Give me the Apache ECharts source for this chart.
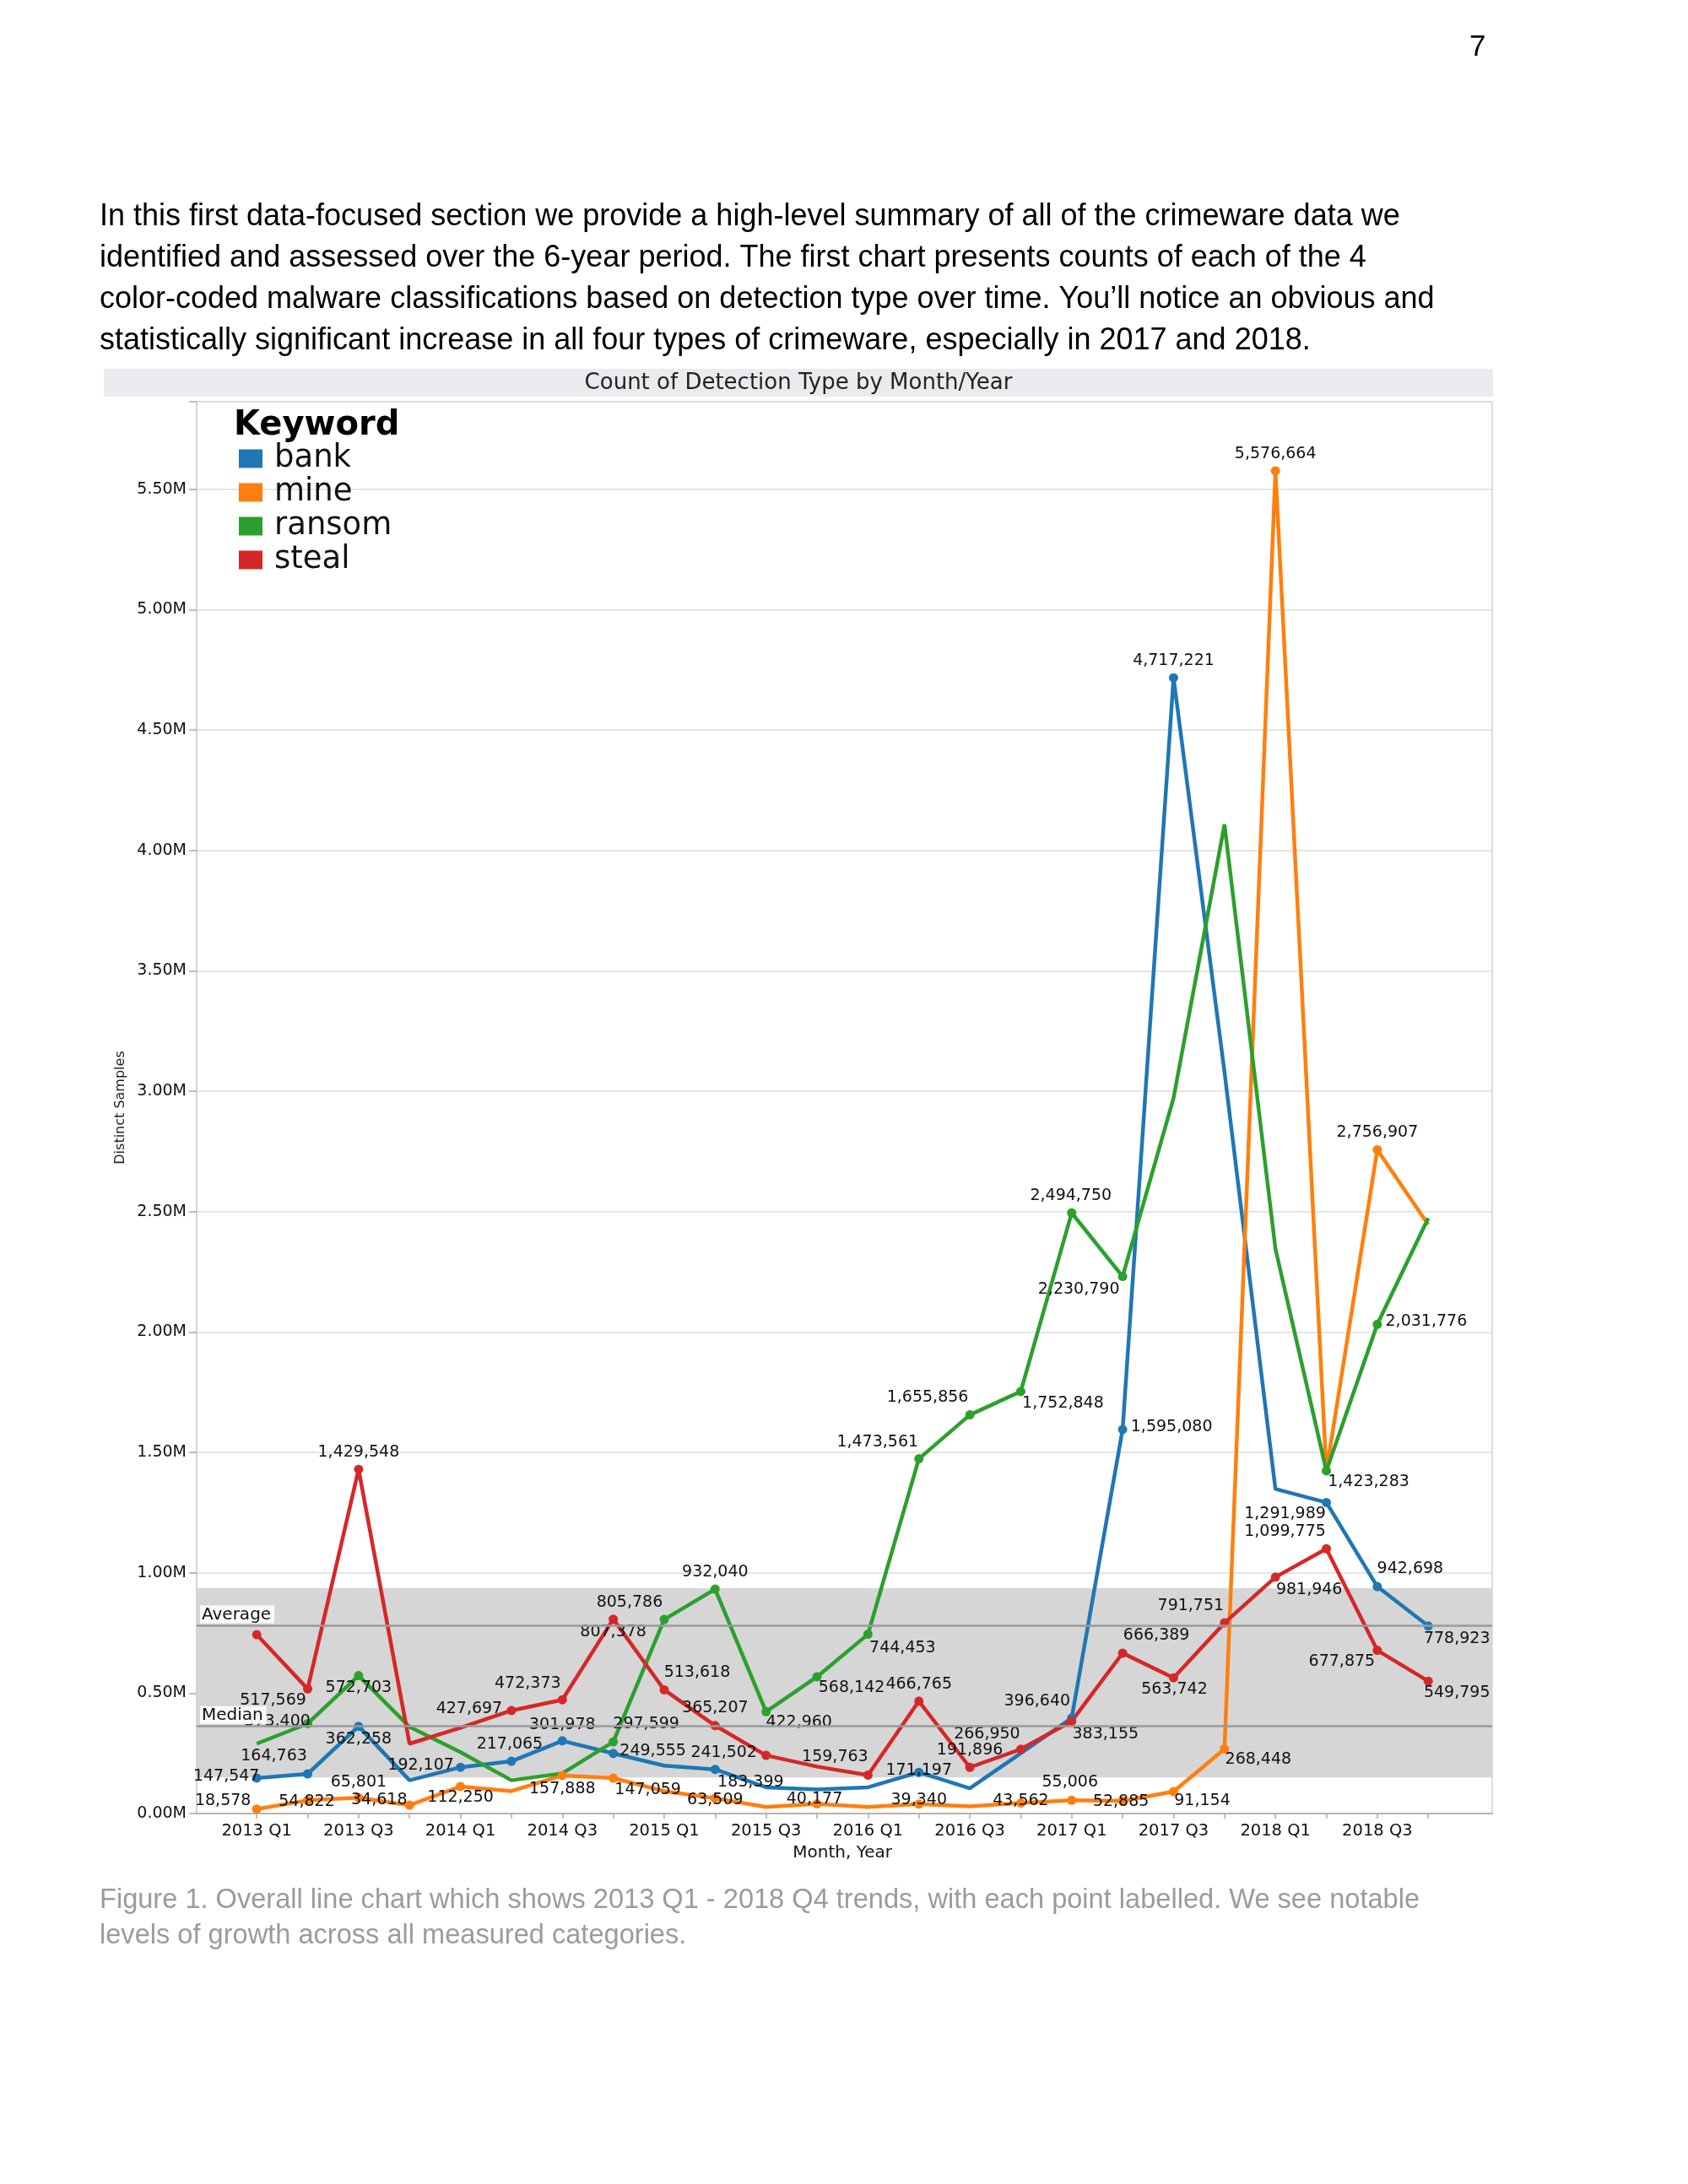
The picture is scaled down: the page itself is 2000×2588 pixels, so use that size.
<!DOCTYPE html>
<html><head><meta charset="utf-8">
<script src="https://cdn.jsdelivr.net/npm/echarts@6/dist/echarts.min.js"></script>
<style>html,body{margin:0;padding:0;background:#fff}#c{width:2000px;height:2588px}</style>
</head><body><div id="c"></div>
<script>
// ---------- data ----------
const quarters = ['2013 Q1','2013 Q2','2013 Q3','2013 Q4','2014 Q1','2014 Q2','2014 Q3','2014 Q4',
  '2015 Q1','2015 Q2','2015 Q3','2015 Q4','2016 Q1','2016 Q2','2016 Q3','2016 Q4',
  '2017 Q1','2017 Q2','2017 Q3','2017 Q4','2018 Q1','2018 Q2','2018 Q3','2018 Q4'];
const seriesNames = ['bank','mine','ransom','steal'];
const bank   = [147547,164763,362258,138000,192107,217065,301978,249555,199000,183399,109000,100000,
                109000,171197,105000,250000,396640,1595080,4717221,3080000,1348000,1291989,942698,778923];
const mine   = [18578,54822,65801,34618,112250,93000,157888,147059,93000,63509,27000,40177,
                27000,39340,30000,43562,55006,52885,91154,268448,5576664,1420000,2756907,2446000];
const ransom = [290000,373400,572703,360000,255000,138000,167000,297599,805786,932040,422960,568142,
                744453,1473561,1655856,1752848,2494750,2230790,2972000,4108000,2346000,1423283,2031776,2473000];
const steal  = [743000,517569,1429548,290000,356000,427697,472373,807378,513618,365207,241502,195000,
                159763,466765,191896,266950,383155,666389,563742,791751,981946,1099775,677875,549795];
const bandRange = [150000, 936000];
const averageValue = 780000;
const medianValue = 362000;
const yTickLabels = ['0.00M','0.50M','1.00M','1.50M','2.00M','2.50M','3.00M','3.50M','4.00M','4.50M','5.00M','5.50M'];

// ---------- label placement (style, offsets in px from the point) ----------
const labelOffsets = {
  bank:   {0:[-36,-2],1:[-40,-21],2:[0,15],4:[-47,-2],5:[-2,-20],6:[0,-19],7:[47,-3],9:[42,15],13:[0,-2],
           16:[-41,-20],17:[58,-3],18:[0,-20],21:[-49,14],22:[39,-21],23:[34,15]},
  mine:   {0:[-40,-10],1:[-1,2],2:[0,-18],3:[-36,-6],4:[0,13],6:[0,16],7:[41,14],9:[0,2],11:[-3,-5],13:[0,-5],
           15:[0,-3],16:[-2,-21],17:[-2,1],18:[34,11],19:[40,13],20:[0,-20],22:[0,-20]},
  ransom: {1:[-36,-2],2:[0,14],7:[39,-21],8:[-41,-20],9:[0,-20],10:[39,13],11:[41,13],12:[41,16],13:[-49,-20],
           14:[-50,-21],15:[50,14],16:[-1,-20],17:[-52,16],21:[50,13],22:[58,-3]},
  steal:  {1:[-41,14],2:[0,-20],5:[-50,-2],6:[-41,-19],7:[0,15],8:[39,-20],9:[0,-21],10:[-50,-3],12:[-39,-21],
           13:[0,-20],14:[0,-20],15:[-40,-18],16:[40,15],17:[40,-21],18:[1,14],19:[-40,-20],20:[40,15],
           21:[-49,-20],22:[-42,13],23:[34,14]}
};
const markerOnly = {bank:[], mine:[], ransom:[], steal:[0]};
const colors = {bank:'#1f77b4', mine:'#ff7f0e', ransom:'#2ca02c', steal:'#d62728'};
const values = {bank, mine, ransom, steal};

const F = 'DejaVu Sans';
const PF = '"Liberation Sans", Arial, sans-serif';
const yMax = 5864000;

function buildData(name) {
  const offs = labelOffsets[name];
  return values[name].map((v, i) => {
    const off = offs[i];
    const mark = !!off || markerOnly[name].indexOf(i) >= 0;
    return {
      value: v,
      symbolSize: mark ? 11 : 0,
      label: off ? {show: true, offset: off} : {show: false}
    };
  });
}

const dataSeries = seriesNames.map(name => ({
  name: name,
  type: 'line',
  xAxisIndex: 1, yAxisIndex: 1,
  data: buildData(name),
  symbol: 'circle',
  showAllSymbol: true,
  color: colors[name],
  lineStyle: {width: 4.5, color: colors[name]},
  itemStyle: {color: colors[name]},
  label: {
    position: 'inside',
    formatter: p => Number(p.value).toLocaleString('en-US'),
    fontSize: 19, fontFamily: F, color: '#111'
  },
  emphasis: {disabled: true},
  z: 3
}));

const paragraph = 'In this first data-focused section we provide a high-level summary of all of the crimeware data we\n' +
  'identified and assessed over the 6-year period. The first chart presents counts of each of the 4\n' +
  'color-coded malware classifications based on detection type over time. You\u2019ll notice an obvious and\n' +
  'statistically significant increase in all four types of crimeware, especially in 2017 and 2018.';
const caption = 'Figure 1. Overall line chart which shows 2013 Q1 - 2018 Q4 trends, with each point labelled. We see notable\n' +
  'levels of growth across all measured categories.';

const option = {
  animation: false,
  backgroundColor: '#ffffff',
  graphic: [
    {type: 'text', x: 1741, y: 56, style: {text: '7', font: '35px ' + PF, fill: '#000', verticalAlign: 'middle'}},
    {type: 'text', x: 118, y: 233, style: {text: paragraph, font: '36px ' + PF, fill: '#000', lineHeight: 49}},
    {type: 'rect', x: 123, y: 437, shape: {width: 1646, height: 33}, style: {fill: '#ebebef'}, z: -1},
    {type: 'text', x: 946, y: 454, style: {text: 'Count of Detection Type by Month/Year', font: '26px "DejaVu Sans"', fill: '#222', align: 'center', verticalAlign: 'middle'}},
    {type: 'text', x: 277, y: 505, style: {text: 'Keyword', font: 'bold 40px "DejaVu Sans"', fill: '#000', verticalAlign: 'middle'}, z: 10},
    {type: 'text', x: 118, y: 2231, style: {text: caption, font: '32.6px ' + PF, fill: '#9b9b9b', lineHeight: 42}}
  ],
  legend: {
    orient: 'vertical', left: 283, top: 525, padding: 0,
    itemWidth: 28, itemHeight: 22, itemGap: 3, icon: 'rect',
    data: seriesNames,
    textStyle: {fontSize: 37, lineHeight: 36.5, fontFamily: F, color: '#111', padding: [0, 0, 0, 9]}
  },
  grid: [
    {left: 233, right: 232, top: 476, bottom: 439, show: true, borderColor: '#d2d2d2', borderWidth: 1.5, backgroundColor: 'transparent'},
    {left: 274, right: 277.6, top: 476, bottom: 439}
  ],
  xAxis: [
    {gridIndex: 0, type: 'value', min: 0, max: 1,
     axisLine: {show: true, onZero: false, lineStyle: {color: '#b4b4b4', width: 2}},
     axisTick: {show: false}, axisLabel: {show: false}, splitLine: {show: false}},
    {gridIndex: 1, type: 'category', data: quarters, boundaryGap: true,
     axisLine: {show: false},
     axisTick: {show: true, alignWithLabel: true, interval: 0, length: 6, lineStyle: {color: '#aaa', width: 1.5}},
     axisLabel: {interval: 1, fontSize: 19.5, fontFamily: F, color: '#111', margin: 11},
     name: 'Month, Year', nameLocation: 'middle', nameGap: 37,
     nameTextStyle: {fontSize: 20, fontFamily: F, color: '#111'}}
  ],
  yAxis: [
    {gridIndex: 0, type: 'value', min: 0, max: yMax, interval: 500000,
     axisLine: {show: true, lineStyle: {color: '#cfcfcf', width: 1.5}},
     axisTick: {show: true, length: 9, lineStyle: {color: '#aaa', width: 1.5}},
     splitLine: {show: true, lineStyle: {color: '#dcdcdc', width: 1.5}},
     axisLabel: {fontSize: 19, fontFamily: F, color: '#111', margin: 12,
       formatter: v => { const k = Math.round(v / 500000); return (Math.abs(v - k * 500000) < 1) ? yTickLabels[k] : ''; }},
     name: 'Distinct Samples', nameLocation: 'middle', nameGap: 82,
     nameTextStyle: {fontSize: 16, fontFamily: F, color: '#222'}},
    {gridIndex: 1, type: 'value', min: 0, max: yMax, show: false}
  ],
  series: [
    {type: 'line', xAxisIndex: 0, yAxisIndex: 0, data: [], silent: true, z: 1,
     markArea: {silent: true, itemStyle: {color: '#d6d6d6'},
       data: [[{yAxis: bandRange[0]}, {yAxis: bandRange[1]}]]}}
  ].concat(dataSeries).concat([
    {type: 'line', xAxisIndex: 0, yAxisIndex: 0, data: [], silent: true, z: 5,
     markLine: {silent: true, symbol: 'none', animation: false,
       lineStyle: {color: '#9a9a9a', width: 2.5, type: 'solid'},
       label: {position: 'insideStartTop', distance: [4, 3], fontSize: 20, fontFamily: F, color: '#111',
               backgroundColor: 'rgba(255,255,255,0.88)', padding: [1, 4, 0, 2]},
       data: [
         {yAxis: averageValue, label: {formatter: 'Average'}},
         {yAxis: medianValue, label: {formatter: 'Median'}}
       ]}}
  ])
};

const chart = echarts.init(document.getElementById('c'), null, {renderer: 'canvas'});
chart.setOption(option);
</script>
</body></html>
